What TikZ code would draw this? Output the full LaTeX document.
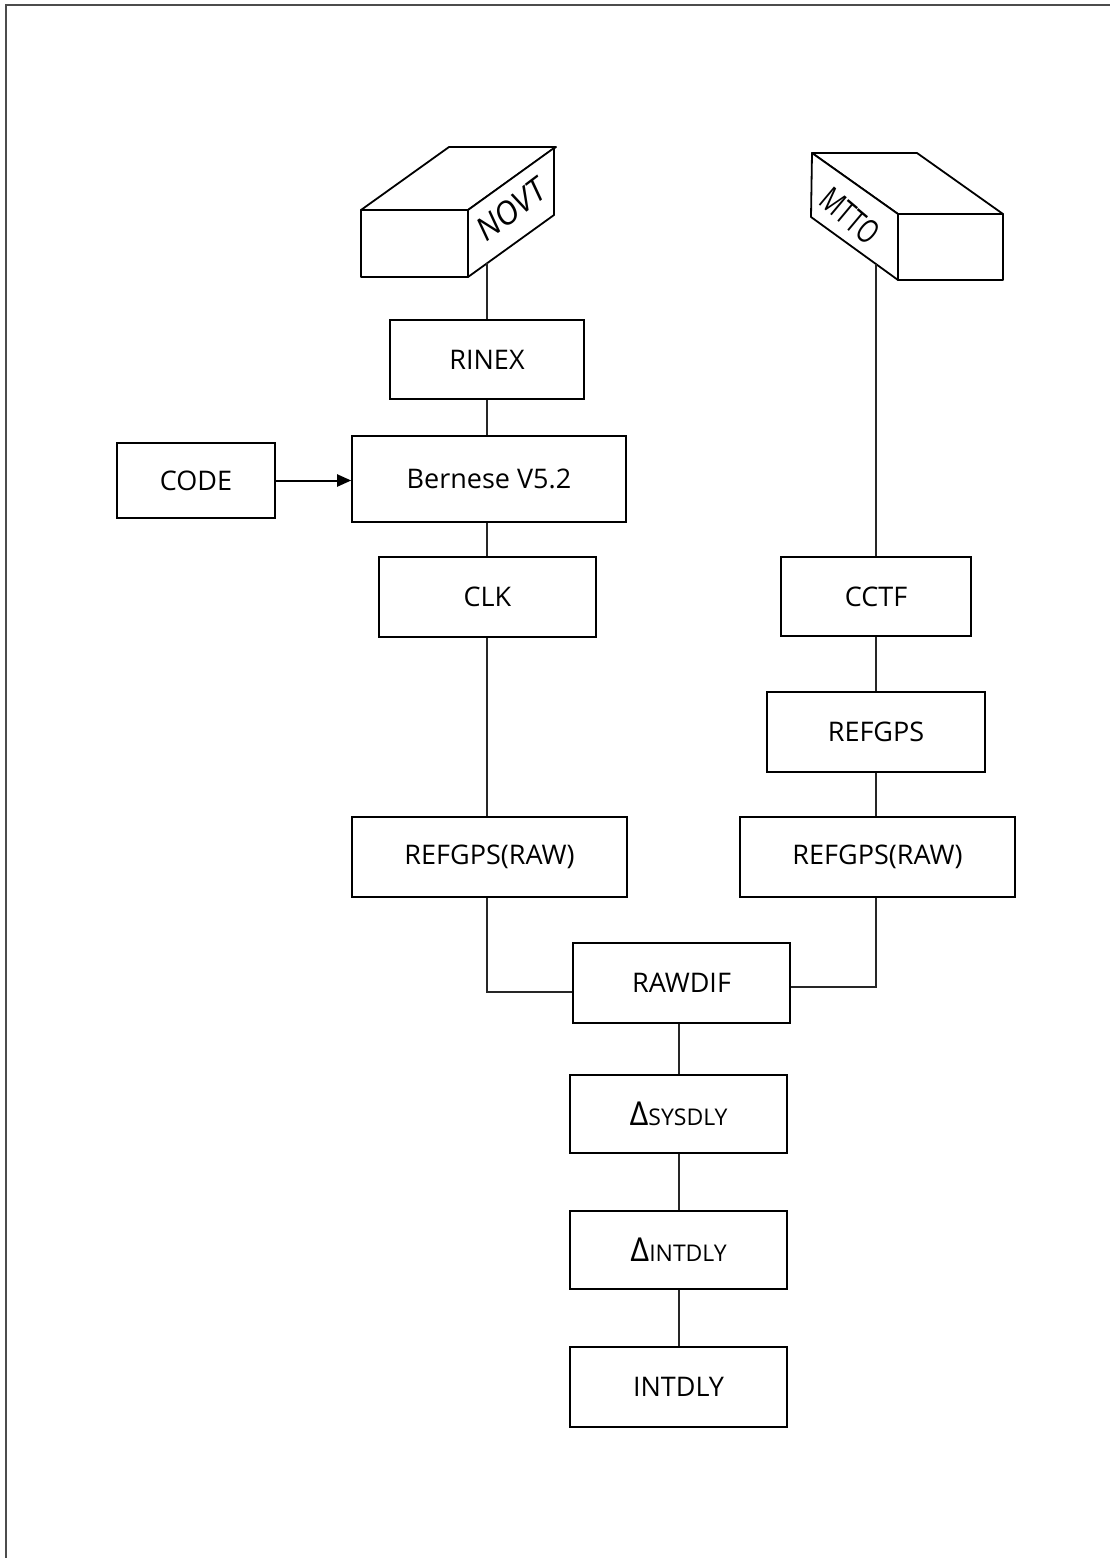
\documentclass[tikz,border=0pt]{standalone}
\usepackage{fontspec}
\setmainfont{Open Sans}
\usetikzlibrary{arrows.meta}
\tikzset{
  blk/.style={draw, line width=1.6pt, inner sep=0pt, fill=white,
    font=\fontsize{27}{30}\selectfont, text=black},
  link/.style={line width=1.2pt, black!85},
  boxedge/.style={line width=1.8pt, line join=round, fill=white},
}
\newcommand{\dlabel}[1]{{\fontsize{33}{33}\selectfont Δ}{\fontsize{23}{23}\selectfont #1}}
\begin{document}
\begin{tikzpicture}[x=1pt,y=-1pt]
\useasboundingbox (0,0) rectangle (1110,1558);
% page frame
\draw[line width=2pt, black!70] (6,1558) -- (6,5) -- (1110,5);

% NOVT station block (front face, top face, right face)
\coordinate (nfl) at (361,210);
\coordinate (nfr) at (468,210);
\coordinate (nbl) at (361,277);
\coordinate (nbr) at (468,277);
\draw[boxedge] (nfl) -- ++(88,-63) -- ++(107,0) -- (nfr) -- cycle;
\draw[boxedge] (nfr) -- ++(86,-62) -- ++(0,67) -- (nbr) -- cycle;
\draw[boxedge] (nfl) rectangle (nbr);
\node[rotate=37, font=\fontsize{32}{32}\selectfont\itshape] (novtlbl) at (511,210) {NOVT};
\coordinate (novt) at (487,263);

% MTTO station block (left face, top face, front face)
\coordinate (mfl) at (898,214);
\coordinate (mfr) at (1003,214);
\coordinate (mbl) at (898,280);
\coordinate (mbr) at (1003,280);
\draw[boxedge] (mfl) -- ++(-86,-61) -- ++(105,0) -- (mfr) -- cycle;
\draw[boxedge] (mfl) -- ++(-86,-61) -- ++(-1,64) -- (mbl) -- cycle;
\draw[boxedge] (mfl) rectangle (mbr);
\node[rotate=-40, font=\fontsize{33}{33}\selectfont, inner sep=0pt] (mttolbl) at (850,216) {\scalebox{0.72}[1]{MTTO}};
\coordinate (mtto) at (876,264);

% processing boxes
\node[blk, minimum width=194pt, minimum height=79pt] (rinex) at (487,359.5) {RINEX};
\node[blk, minimum width=274pt, minimum height=86pt] (bern) at (489,479) {Bernese V5.2};
\node[blk, minimum width=158pt, minimum height=75pt] (code) at (196,480.5) {CODE};
\node[blk, minimum width=217pt, minimum height=80pt] (clk) at (487.5,597) {CLK};
\node[blk, minimum width=190pt, minimum height=79pt] (cctf) at (876,596.5) {CCTF};
\node[blk, minimum width=218pt, minimum height=80pt] (refgps) at (876,732) {REFGPS};
\node[blk, minimum width=275pt, minimum height=80pt] (rawl) at (489.5,857) {REFGPS(RAW)};
\node[blk, minimum width=275pt, minimum height=80pt] (rawr) at (877.5,857) {REFGPS(RAW)};
\node[blk, minimum width=217pt, minimum height=80pt] (rawdif) at (681.5,983) {RAWDIF};
\node[blk, minimum width=217pt, minimum height=78pt] (sys) at (678.5,1114) {\dlabel{SYSDLY}};
\node[blk, minimum width=217pt, minimum height=78pt] (dint) at (678.5,1250) {\dlabel{INTDLY}};
\node[blk, minimum width=217pt, minimum height=80pt] (intdly) at (678.5,1387) {INTDLY};

% connectors, left chain
\draw[link] (novt) -- (novt |- rinex.north);
\draw[link] (novt |- rinex.south) -- (novt |- bern.north);
\draw[link] (novt |- bern.south) -- (novt |- clk.north);
\draw[link] (novt |- clk.south) -- (novt |- rawl.north);
\draw[-{Triangle[length=14pt,width=12pt]}, line width=2pt] (code.east) -- (code.east -| bern.west);

% connectors, right chain
\draw[link] (mtto) -- (mtto |- cctf.north);
\draw[link] (mtto |- cctf.south) -- (mtto |- refgps.north);
\draw[link] (mtto |- refgps.south) -- (mtto |- rawr.north);

% merge into RAWDIF
\draw[link] (novt |- rawl.south) |- ([yshift=-9pt]rawdif.west);
\draw[link] (mtto |- rawr.south) |- ([yshift=-4pt]rawdif.east);

% lower chain
\coordinate (axis) at (679,0);
\draw[link] (rawdif.south -| axis) -- (sys.north -| axis);
\draw[link] (sys.south -| axis) -- (dint.north -| axis);
\draw[link] (dint.south -| axis) -- (intdly.north -| axis);
\end{tikzpicture}
\end{document}
